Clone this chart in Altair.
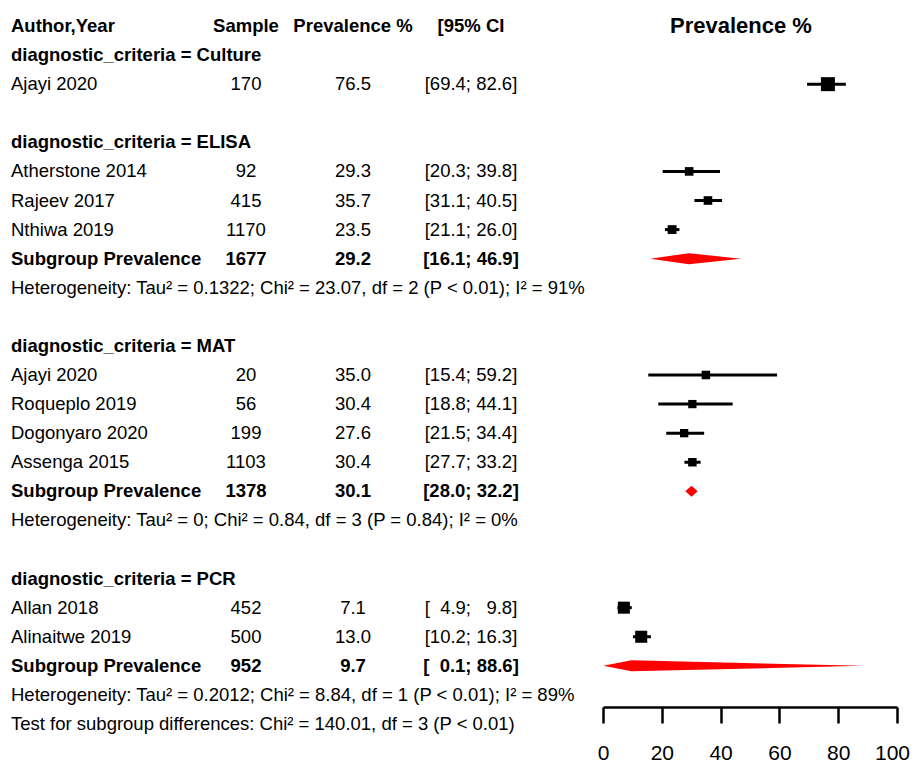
import altair as alt
import pandas as pd

# ---------------- data ----------------
groups = ["Culture", "ELISA", "MAT", "PCR"]
studies = [
    ["Ajayi 2020"],
    ["Atherstone 2014", "Rajeev 2017", "Nthiwa 2019"],
    ["Ajayi 2020", "Roqueplo 2019", "Dogonyaro 2020", "Assenga 2015"],
    ["Allan 2018", "Alinaitwe 2019"],
]
samples = [[170], [92, 415, 1170], [20, 56, 199, 1103], [452, 500]]
prevalence = [[76.5], [29.3, 35.7, 23.5], [35.0, 30.4, 27.6, 30.4], [7.1, 13.0]]
ci_lower = [[69.4], [20.3, 31.1, 21.1], [15.4, 18.8, 21.5, 27.7], [4.9, 10.2]]
ci_upper = [[82.6], [39.8, 40.5, 26.0], [59.2, 44.1, 34.4, 33.2], [9.8, 16.3]]
# relative box weights (%) as drawn
weights = [[100], [38, 38, 40], [37, 35, 35, 37], [74, 74]]

sub_sample = [None, 1677, 1378, 952]
sub_prev = [None, 29.2, 30.1, 9.7]
sub_lower = [None, 16.1, 28.0, 0.1]
sub_upper = [None, 46.9, 32.2, 88.6]
heterogeneity = [
    None,
    "Heterogeneity: Tau² = 0.1322; Chi² = 23.07, df = 2 (P < 0.01); I² = 91%",
    "Heterogeneity: Tau² = 0; Chi² = 0.84, df = 3 (P = 0.84); I² = 0%",
    "Heterogeneity: Tau² = 0.2012; Chi² = 8.84, df = 1 (P < 0.01); I² = 89%",
]
test_text = "Test for subgroup differences: Chi² = 140.01, df = 3 (P < 0.01)"
headers = ["Author,Year", "Sample", "Prevalence %", "[95% CI"]
axis_ticks = [0, 20, 40, 60, 80, 100]

# ---------------- layout / style ----------------
FONT = "Liberation Sans, Arial, Helvetica, sans-serif"
FS = 18.5
W, H = 903, 754
N_ROWS = 24
COL_X = {"author": 3, "sample": 238, "prev": 345, "ci": 463}
COL_ALIGN = {"author": "left", "sample": "center", "prev": "center", "ci": "center"}
DIAMOND_HALF = 5.5 / 29.08
FIG_SPACE = "\u2007"


def pad(v):
    s = f"{v:4.1f}"
    n = len(s) - len(s.lstrip(" "))
    return FIG_SPACE * n + s.lstrip(" ")


def fmt_ci(lo, hi):
    return f"[{pad(lo)}; {pad(hi)}]"


# ---------------- build tables ----------------
text_rows = []
study_rows = []
diamond_rows = []

row = 0
for c, h in zip(["author", "sample", "prev", "ci"], headers):
    text_rows.append(dict(row=row, col=c, text=h, bold=True))

for gi, g in enumerate(groups):
    if gi > 0:
        row += 1  # blank line between subgroups
    row += 1
    text_rows.append(dict(row=row, col="author", text=f"diagnostic_criteria = {g}", bold=True))
    for si, s in enumerate(studies[gi]):
        row += 1
        text_rows += [
            dict(row=row, col="author", text=s, bold=False),
            dict(row=row, col="sample", text=str(samples[gi][si]), bold=False),
            dict(row=row, col="prev", text=f"{prevalence[gi][si]:.1f}", bold=False),
            dict(row=row, col="ci", text=fmt_ci(ci_lower[gi][si], ci_upper[gi][si]), bold=False),
        ]
        study_rows.append(dict(row=row, est=prevalence[gi][si], lower=ci_lower[gi][si],
                               upper=ci_upper[gi][si], weight=weights[gi][si]))
    if sub_prev[gi] is not None:
        row += 1
        text_rows += [
            dict(row=row, col="author", text="Subgroup Prevalence", bold=True),
            dict(row=row, col="sample", text=str(sub_sample[gi]), bold=True),
            dict(row=row, col="prev", text=f"{sub_prev[gi]:.1f}", bold=True),
            dict(row=row, col="ci", text=fmt_ci(sub_lower[gi], sub_upper[gi]), bold=True),
        ]
        for xv, hh in [(sub_lower[gi], 0.0), (sub_prev[gi], DIAMOND_HALF), (sub_upper[gi], 0.0)]:
            diamond_rows.append(dict(grp=g, x=xv, y1=row - hh, y2=row + hh))
        row += 1
        text_rows.append(dict(row=row, col="author", text=heterogeneity[gi], bold=False))
row += 1
text_rows.append(dict(row=row, col="author", text=test_text, bold=False))

texts = pd.DataFrame(text_rows)
st = pd.DataFrame(study_rows)
dia = pd.DataFrame(diamond_rows)

YS = alt.Scale(domain=[0, N_ROWS], range=[18, 716], nice=False, zero=False)
XS = alt.Scale(domain=[0, 100], range=[595, 889], nice=False, zero=False)
AX = alt.Axis(
    title=None, values=axis_ticks, grid=False, offset=-(H - 699),
    domainColor="black", domainWidth=2.5, tickColor="black", tickWidth=2.5,
    tickSize=16, labelFont=FONT, labelFontSize=21, labelColor="black",
    labelPadding=19, labelFlush=False, labelOverlap=False,
    labelOffset={"condition": {"test": "datum.value === 100", "value": -5}, "value": 0},
)


def ry(field):
    return alt.Y(f"{field}:Q", scale=YS, axis=None)


def rx(field):
    return alt.X(f"{field}:Q", scale=XS, axis=AX)


layers = []
for col in ["author", "sample", "prev", "ci"]:
    for bold in [False, True]:
        sub = texts[(texts["col"] == col) & (texts["bold"] == bold)]
        if len(sub) == 0:
            continue
        layers.append(
            alt.Chart(sub).mark_text(
                font=FONT, fontSize=FS, color="black", align=COL_ALIGN[col],
                baseline="middle", fontWeight="bold" if bold else "normal",
            ).encode(x=alt.value(COL_X[col]), y=ry("row"), text="text:N")
        )

title_df = pd.DataFrame({"row": [0], "text": ["Prevalence %"]})
layers.append(
    alt.Chart(title_df).mark_text(
        font=FONT, fontSize=22, fontWeight="bold",
        color="black", align="center", baseline="middle",
    ).encode(x=alt.value(733), y=ry("row"), text="text:N")
)

ci_layer = alt.Chart(st).mark_rule(color="black", strokeWidth=3).encode(
    x=rx("lower"), x2="upper", y=ry("row")
)
box_layer = alt.Chart(st).mark_square(color="black", filled=True, opacity=1).encode(
    x=rx("est"), y=ry("row"),
    size=alt.Size("weight:Q", scale=alt.Scale(domain=[0, 100], range=[0, 196]), legend=None),
)
dia_layer = alt.Chart(dia).mark_area(color="#FF0000", orient="vertical", opacity=1).encode(
    x=rx("x"), y=ry("y1"), y2="y2", detail="grp:N"
)

chart = alt.layer(ci_layer, box_layer, dia_layer, *layers).properties(
    width=W, height=H, padding=0, autosize=alt.AutoSizeParams(type="none"),
    background="white",
).configure_view(stroke=None)

chart.save("out.html", embed_options={"renderer": "svg", "actions": False})
